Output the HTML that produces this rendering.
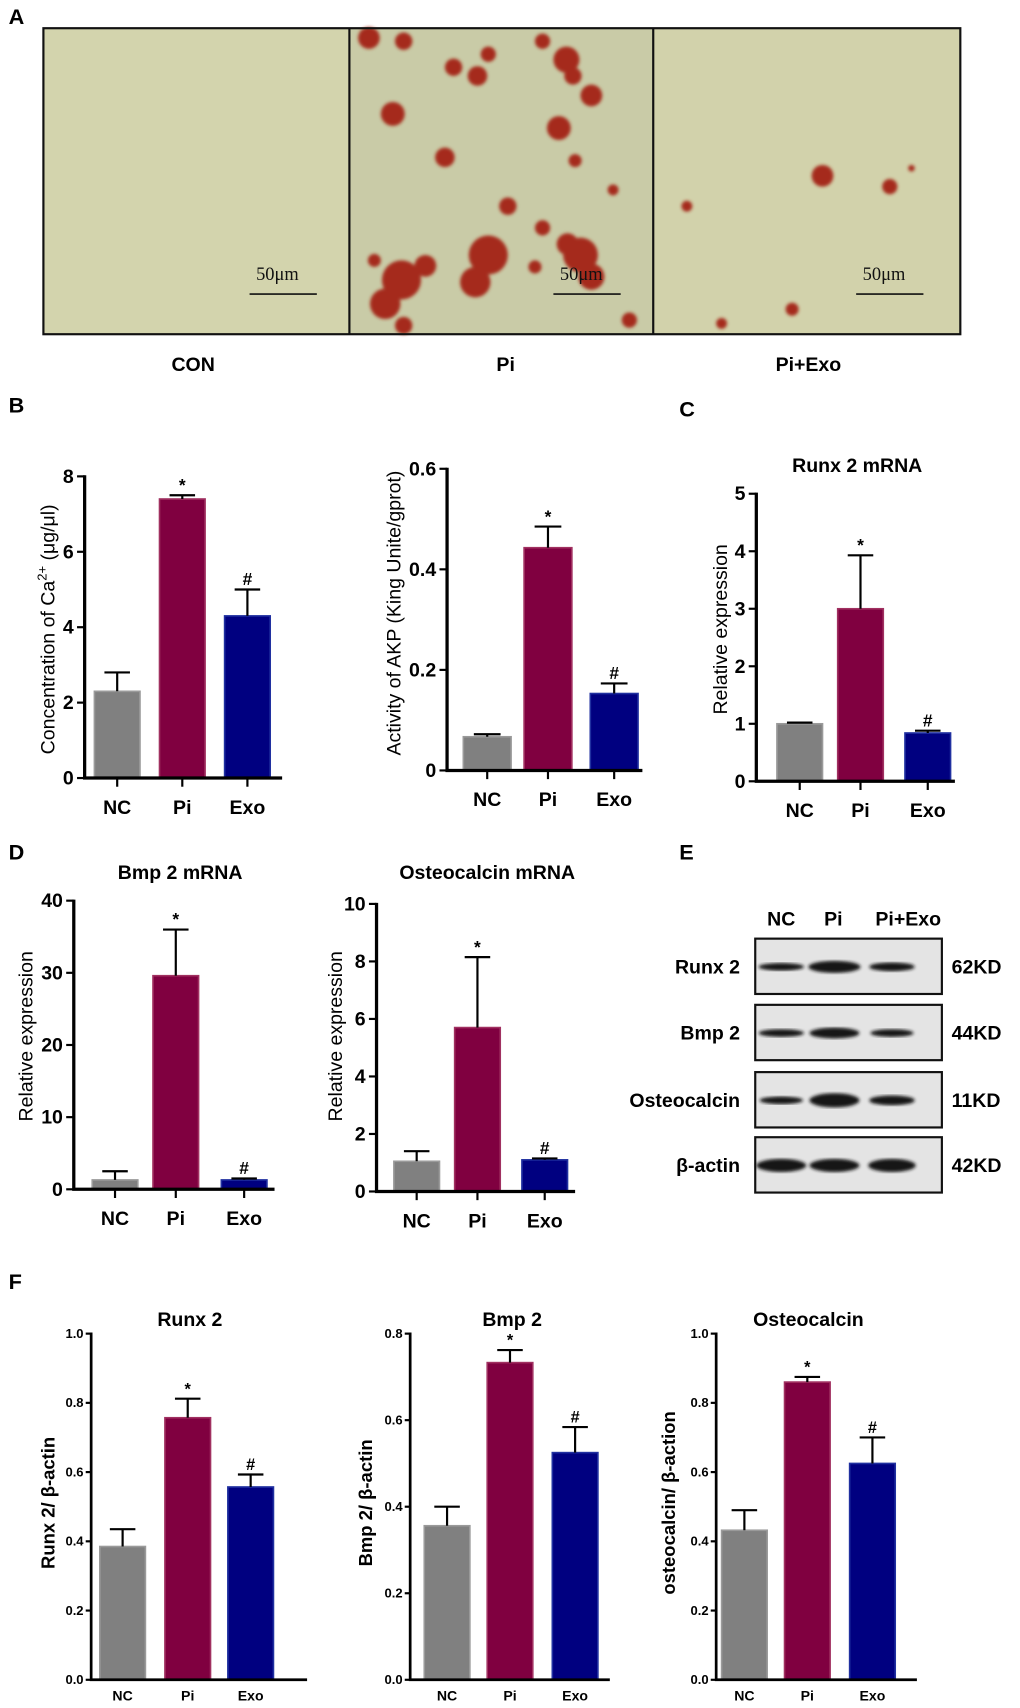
<!DOCTYPE html>
<html><head><meta charset="utf-8">
<style>
html,body{margin:0;padding:0;background:#fff;}
svg{display:block;font-family:"Liberation Sans",Arial,sans-serif;}
</style></head>
<body>
<svg id="fig" width="1020" height="1708" viewBox="0 0 940 1574" preserveAspectRatio="none" xmlns="http://www.w3.org/2000/svg">
  <defs>
    <filter id="blur1"><feGaussianBlur stdDeviation="1.5"/></filter>
    <filter id="blur2"><feGaussianBlur stdDeviation="2.5"/></filter>
  </defs>
  <g font-weight="bold" font-size="20" fill="#000">
    <text x="8" y="22">A</text>
    <text x="8" y="380">B</text>
    <text x="626" y="384">C</text>
    <text x="8" y="792">D</text>
    <text x="626" y="792">E</text>
    <text x="8" y="1188">F</text>
  </g>
  <g>
    <rect x="40" y="26" width="282" height="282" fill="#d3d4ad"/>
    <rect x="322" y="26" width="280" height="282" fill="#c9cba7"/>
    <rect x="602" y="26" width="283" height="282" fill="#d2d2ab"/>
    <g id="blobs" fill="#a52a1a" filter="url(#blur1)"></g>
    <rect x="40" y="26" width="845" height="282" fill="none" stroke="#111" stroke-width="2"/>
    <line x1="322" y1="26" x2="322" y2="308" stroke="#111" stroke-width="2"/>
    <line x1="602" y1="26" x2="602" y2="308" stroke="#111" stroke-width="2"/>
    <g font-family="Liberation Serif,serif" font-size="17" fill="#111">
      <text x="236" y="258">50μm</text>
      <line x1="230" y1="271" x2="292" y2="271" stroke="#111" stroke-width="1.5"/>
      <text x="516" y="258">50μm</text>
      <line x1="510" y1="271" x2="572" y2="271" stroke="#111" stroke-width="1.5"/>
      <text x="795" y="258">50μm</text>
      <line x1="789" y1="271" x2="851" y2="271" stroke="#111" stroke-width="1.5"/>
    </g>
    <g font-weight="bold" font-size="18" text-anchor="middle">
      <text x="178" y="342">CON</text>
      <text x="466" y="342">Pi</text>
      <text x="745" y="342">Pi+Exo</text>
    </g>
  </g>
  <g id="charts"></g>
  <g font-weight="bold" font-size="18">
    <text x="720" y="853" text-anchor="middle">NC</text>
    <text x="768" y="853" text-anchor="middle">Pi</text>
    <text x="837" y="853" text-anchor="middle">Pi+Exo</text>
    <g id="blots"></g>
  </g>
</svg>
<script>
const blobPi = [[340,35,10],[372,38,8],[362,105,11],[418,62,8],[440,70,9],[450,50,7],[522,55,12],[545,88,10],[515,118,11],[528,70,8],[500,38,7],[410,145,9],[530,148,6],[468,190,8],[500,210,7],[493,246,6],[535,235,16],[545,255,12],[523,225,10],[450,235,18],[438,260,14],[370,258,18],[355,280,14],[392,245,10],[345,240,6],[372,300,8],[565,175,5],[580,295,7]];
const blobExo = [[758,162,10],[820,172,7],[633,190,5],[730,285,6],[665,298,5],[840,155,3]];
const bg = document.getElementById('blobs');
[...blobPi, ...blobExo].forEach(function(b){
  const c = document.createElementNS('http://www.w3.org/2000/svg','circle');
  c.setAttribute('cx', b[0]); c.setAttribute('cy', b[1]); c.setAttribute('r', b[2]);
  
  
  bg.appendChild(c);
});

const categories = ["NC","Pi","Exo"];
const caValues = [2.3, 7.4, 4.3];
const caErrors = [2.8, 7.5, 5.0];
const caTicks = [0,2,4,6,8];
const akpValues = [0.067, 0.443, 0.153];
const akpErrors = [0.072, 0.485, 0.173];
const akpTicks = [0,0.2,0.4,0.6];
const runxMrnaValues = [1.0, 3.0, 0.84];
const runxMrnaErrors = [1.02, 3.93, 0.88];
const runxMrnaTicks = [0,1,2,3,4,5];
const bmpMrnaValues = [1.3, 29.6, 1.3];
const bmpMrnaErrors = [2.5, 36.0, 1.5];
const bmpMrnaTicks = [0,10,20,30,40];
const ocnMrnaValues = [1.05, 5.7, 1.1];
const ocnMrnaErrors = [1.4, 8.15, 1.15];
const ocnMrnaTicks = [0,2,4,6,8,10];
const runxProtValues = [0.385, 0.757, 0.557];
const runxProtErrors = [0.435, 0.812, 0.593];
const runxProtTicks = ["0.0","0.2","0.4","0.6","0.8","1.0"];
const bmpProtValues = [0.356, 0.733, 0.525];
const bmpProtErrors = [0.40, 0.762, 0.584];
const bmpProtTicks = ["0.0","0.2","0.4","0.6","0.8"];
const ocnProtValues = [0.432, 0.86, 0.625];
const ocnProtErrors = [0.49, 0.875, 0.70];
const ocnProtTicks = ["0.0","0.2","0.4","0.6","0.8","1.0"];
const marks = ["","*","#"];

const NS = 'http://www.w3.org/2000/svg';
const fills = ["#808080","#800040","#000080"];
const strokes = ["#9a9a9a","#a03060","#2030a0"];
function mk(tag, attrs, parent){
  const e = document.createElementNS(NS, tag);
  for (const k in attrs) e.setAttribute(k, attrs[k]);
  parent.appendChild(e); return e;
}
function chart(o){
  const g = mk('g', {}, document.getElementById('charts'));
  
  
  const tmax = parseFloat(o.ticks[o.ticks.length-1]);
  const y = v => o.y0 - (v/tmax)*(o.y0-o.yTop);
  const big = !o.small;
  const fs = big ? 18 : 12;
  o.values.forEach(function(v,i){
    const cx = o.xs[i];
    const r = mk('rect', {x: cx-o.bw/2, y: y(v), width: o.bw, height: o.y0-y(v), fill: fills[i], stroke: strokes[i], 'stroke-width': 1.5}, g);
    
    
    const e = o.errors[i];
    const eb = mk('path', {d: 'M'+cx+','+y(v)+'V'+y(e)+'M'+(cx-o.bw*0.28)+','+y(e)+'H'+(cx+o.bw*0.28), stroke:'#000', 'stroke-width':2, fill:'none'}, g);
    
    
    if (marks[i]) {
      const t = mk('text', {x: cx, y: y(e)-4, 'text-anchor':'middle', 'font-size': big?16:15, 'font-weight':'bold'}, g);
      t.textContent = marks[i];
      
      
    }
    const xl = mk('text', {x: cx, y: o.y0 + (big?33:19), 'text-anchor':'middle', 'font-size': big?18:13, 'font-weight':'bold'}, g);
    xl.textContent = categories[i];
    
    
    if (big) mk('line', {x1:cx, x2:cx, y1:o.y0, y2:o.y0+8, stroke:'#000', 'stroke-width':2}, g);
  });
  const ax = mk('path', {d:'M'+o.ax+','+(o.yTop-1)+'V'+o.y0+'H'+o.xEnd, stroke:'#000', 'stroke-width': big?3:2.5, fill:'none'}, g);
  
  
  o.ticks.forEach(function(t){
    const yy = y(parseFloat(t));
    mk('line', {x1:o.ax-(big?7:5), x2:o.ax, y1:yy, y2:yy, stroke:'#000', 'stroke-width':2}, g);
    const tl = mk('text', {x:o.ax-(big?10:7), y:yy+(big?6:4), 'text-anchor':'end', 'font-size':fs, 'font-weight':'bold'}, g);
    tl.textContent = t;
    
    
  });
  const yl = mk('text', {x:0, y:0, transform:'translate('+o.ylx+','+o.yly+') rotate(-90)', 'text-anchor':'middle', 'font-size': big?18:17, 'font-weight': big?'normal':'bold'}, g);
  yl.innerHTML = o.ylabel;
  
  
  if (o.title) {
    const tt = mk('text', {x:o.tx, y:o.ty, 'text-anchor':'middle', 'font-size':18, 'font-weight':'bold'}, g);
    tt.textContent = o.title;
    
    
  }
}
chart({name:'chart-calcium', values:caValues, errors:caErrors, ticks:caTicks, ax:78, y0:717, yTop:439, xEnd:260, xs:[108,168,228], bw:42, ylx:50, yly:580, ylabel:'Concentration of Ca<tspan dy="-7" font-size="12">2+</tspan><tspan dy="7"> (μg/μl)</tspan>'});
chart({name:'chart-akp', values:akpValues, errors:akpErrors, ticks:akpTicks, ax:412, y0:710, yTop:432, xEnd:592, xs:[449,505,566], bw:44, ylx:369, yly:565, ylabel:'Activity of AKP (King Unite/gprot)'});
chart({name:'chart-runx2-mrna', values:runxMrnaValues, errors:runxMrnaErrors, ticks:runxMrnaTicks, ax:697, y0:720, yTop:455, xEnd:880, xs:[737,793,855], bw:42, ylx:670, yly:580, ylabel:'Relative expression', title:'Runx 2  mRNA', tx:790, ty:435});
chart({name:'chart-bmp2-mrna', values:bmpMrnaValues, errors:bmpMrnaErrors, ticks:bmpMrnaTicks, ax:68, y0:1096, yTop:830, xEnd:253, xs:[106,162,225], bw:42, ylx:30, yly:955, ylabel:'Relative expression', title:'Bmp 2  mRNA', tx:166, ty:810});
chart({name:'chart-osteocalcin-mrna', values:ocnMrnaValues, errors:ocnMrnaErrors, ticks:ocnMrnaTicks, ax:347, y0:1098, yTop:833, xEnd:530, xs:[384,440,502], bw:42, ylx:315, yly:955, ylabel:'Relative expression', title:'Osteocalcin mRNA', tx:449, ty:810});
chart({name:'chart-runx2-protein', small:true, values:runxProtValues, errors:runxProtErrors, ticks:runxProtTicks, ax:84, y0:1548, yTop:1229, xEnd:283, xs:[113,173,231], bw:42, ylx:50, yly:1385, ylabel:'Runx 2/ β-actin', title:'Runx 2', tx:175, ty:1222});
chart({name:'chart-bmp2-protein', small:true, values:bmpProtValues, errors:bmpProtErrors, ticks:bmpProtTicks, ax:378, y0:1548, yTop:1229, xEnd:562, xs:[412,470,530], bw:42, ylx:343, yly:1385, ylabel:'Bmp 2/ β-actin', title:'Bmp 2', tx:472, ty:1222});
chart({name:'chart-osteocalcin-protein', small:true, values:ocnProtValues, errors:ocnProtErrors, ticks:ocnProtTicks, ax:660, y0:1548, yTop:1229, xEnd:845, xs:[686,744,804], bw:42, ylx:622, yly:1385, ylabel:'osteocalcin/ β-action', title:'Osteocalcin', tx:745, ty:1222});

const blotProteins = ["Runx 2","Bmp 2","Osteocalcin","β-actin"];
const blotWeights = ["62KD","44KD","11KD","42KD"];
const blotTops = [865, 926, 988, 1048];
const bandThickness = [[7,11,8],[7,10,7],[7,13,9],[12,12,12]];
const bandWidths = [[42,48,42],[42,46,40],[40,46,42],[46,46,44]];
const bandX = [720, 769, 822];
const bl = document.getElementById('blots');
blotProteins.forEach(function(p,i){
  const t = blotTops[i];
  const box = mk('rect', {x:696, y:t, width:172, height:51, fill:'#e4e4e4', stroke:'#111', 'stroke-width':2}, bl);
  
  
  bandX.forEach(function(bx,j){
    const b = mk('ellipse', {cx:bx, cy:t+26, rx:bandWidths[i][j]/2, ry:bandThickness[i][j]/2, fill:'#151515', filter:'url(#blur1)'}, bl);
    
    
  });
  const l = mk('text', {x:682, y:t+32, 'text-anchor':'end', 'font-size':18, 'font-weight':'bold'}, bl);
  l.textContent = p;
  
  
  const w = mk('text', {x:877, y:t+32, 'font-size':18, 'font-weight':'bold'}, bl);
  w.textContent = blotWeights[i];
  
  
});
</script>
</body></html>
